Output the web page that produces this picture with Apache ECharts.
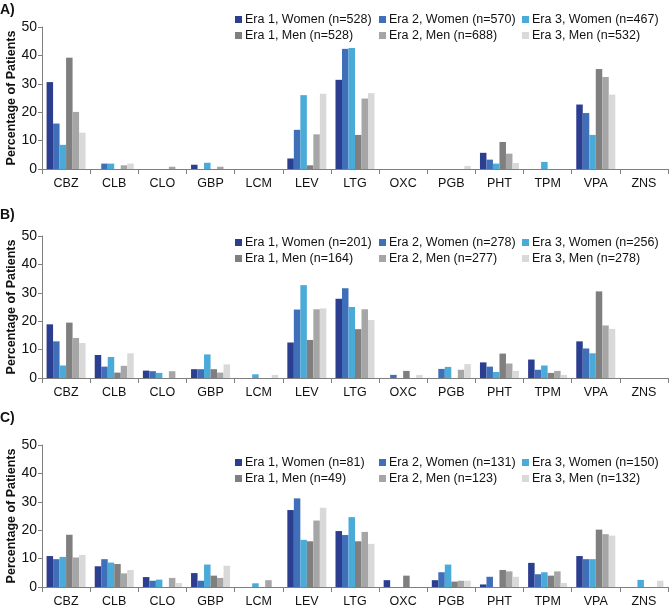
<!DOCTYPE html>
<html>
<head>
<meta charset="utf-8">
<script src="https://cdn.jsdelivr.net/npm/echarts@6/dist/echarts.min.js"></script>
<style>html,body{margin:0;padding:0;background:#fff}#c{width:669px;height:605px}</style>
</head>
<body>
<div id="c"></div>
<script>
var categories = ['CBZ','CLB','CLO','GBP','LCM','LEV','LTG','OXC','PGB','PHT','TPM','VPA','ZNS'];
var yTicks = [0, 10, 20, 30, 40, 50];
var panelLabels = ['A)', 'B)', 'C)'];

// Panel A
var namesA = ['Era 1, Women (n=528)','Era 2, Women (n=570)','Era 3, Women (n=467)','Era 1, Men (n=528)','Era 2, Men (n=688)','Era 3, Men (n=532)'];
var a_e1w = [30.6, 0, 0, 1.5, 0, 3.7, 31.4, 0, 0, 5.7, 0, 22.7, 0];
var a_e2w = [16.0, 1.9, 0, 0, 0, 13.8, 42.3, 0, 0, 3.3, 0, 19.7, 0];
var a_e3w = [8.5, 1.9, 0, 2.2, 0, 26.0, 42.6, 0, 0, 1.9, 2.5, 12.0, 0];
var a_e1m = [39.2, 0, 0, 0, 0, 1.3, 12.0, 0, 0, 9.5, 0, 35.2, 0];
var a_e2m = [20.1, 1.3, 0.8, 0.8, 0, 12.2, 24.8, 0, 0, 5.4, 0, 32.4, 0];
var a_e3m = [12.8, 1.9, 0, 0, 0, 26.5, 26.7, 0, 1.1, 2.1, 0, 26.2, 0];

// Panel B
var namesB = ['Era 1, Women (n=201)','Era 2, Women (n=278)','Era 3, Women (n=256)','Era 1, Men (n=164)','Era 2, Men (n=277)','Era 3, Men (n=278)'];
var b_e1w = [18.9, 8.1, 2.6, 3.1, 0, 12.5, 27.9, 0, 0, 5.5, 6.5, 12.9, 0];
var b_e2w = [12.9, 4.0, 2.4, 3.1, 0, 24.1, 31.6, 1.1, 3.2, 4.0, 2.9, 10.4, 0];
var b_e3w = [4.4, 7.4, 1.8, 8.3, 1.3, 32.7, 25.0, 0, 3.9, 2.1, 4.4, 8.7, 0];
var b_e1m = [19.5, 1.9, 0, 3.1, 0, 13.4, 17.2, 2.5, 0, 8.6, 1.8, 30.5, 0];
var b_e2m = [14.1, 4.3, 2.4, 1.9, 0, 24.2, 24.2, 0, 2.9, 5.1, 2.5, 18.5, 0];
var b_e3m = [12.3, 8.7, 0, 4.8, 1.1, 24.5, 20.4, 1.1, 4.9, 2.5, 1.1, 17.3, 0];

// Panel C
var namesC = ['Era 1, Women (n=81)','Era 2, Women (n=131)','Era 3, Women (n=150)','Era 1, Men (n=49)','Era 2, Men (n=123)','Era 3, Men (n=132)'];
var c_e1w = [10.9, 7.3, 3.5, 4.9, 0, 27.1, 19.7, 2.4, 2.4, 0.9, 8.5, 10.9, 0];
var c_e2w = [9.8, 9.8, 2.2, 2.2, 0, 31.2, 18.3, 0, 5.2, 3.6, 4.5, 9.8, 0];
var c_e3w = [10.6, 8.6, 2.6, 7.9, 1.3, 16.6, 24.6, 0, 7.9, 0, 5.2, 9.8, 2.5];
var c_e1m = [18.4, 8.1, 0, 4.0, 0, 16.1, 16.1, 4.0, 1.9, 6.0, 4.0, 20.2, 0];
var c_e2m = [10.4, 4.8, 3.2, 3.2, 2.4, 23.4, 19.4, 0, 2.2, 5.5, 5.5, 18.6, 0];
var c_e3m = [11.3, 6.0, 1.4, 7.5, 0, 27.9, 15.2, 0, 2.2, 3.6, 1.4, 18.1, 2.2];

var colors = ['#2c3e8f', '#3f6fb8', '#4aaad8', '#7f7f7f', '#a6a6a6', '#d9d9d9'];
var FONT = '"Liberation Sans", Arial, sans-serif';

var panels = [
  {names: namesA, data: [a_e1w, a_e2w, a_e3w, a_e1m, a_e2m, a_e3m], top: 27, legendTop: 13, labelTop: 3},
  {names: namesB, data: [b_e1w, b_e2w, b_e3w, b_e1m, b_e2m, b_e3m], top: 236, legendTop: 236, labelTop: 208},
  {names: namesC, data: [c_e1w, c_e2w, c_e3w, c_e1m, c_e2m, c_e3m], top: 445, legendTop: 456, labelTop: 411}
];

var grids = [], xAxes = [], yAxes = [], series = [], legends = [], titles = [];
var legendLefts = [235, 379, 522];
panels.forEach(function (p, pi) {
  grids.push({left: 42, width: 626, top: p.top, height: 142, containLabel: false, outerBoundsMode: 'none'});
  xAxes.push({
    type: 'category', gridIndex: pi, data: categories,
    axisLine: {lineStyle: {color: '#7f7f7f', width: 1}},
    axisTick: {show: true, length: 5, lineStyle: {color: '#7f7f7f'}},
    axisLabel: {color: '#111', fontSize: 12.5, margin: 8, fontFamily: FONT, interval: 0}
  });
  yAxes.push({
    type: 'value', gridIndex: pi, min: yTicks[0], max: yTicks[yTicks.length - 1], interval: 10,
    name: 'Percentage of Patients', nameLocation: 'middle', nameGap: 24, nameMoveOverlap: false,
    nameTextStyle: {fontSize: 12.5, fontWeight: 'bold', color: '#111', fontFamily: FONT},
    axisLine: {show: true, lineStyle: {color: '#7f7f7f', width: 1}},
    axisTick: {show: true, length: 4, lineStyle: {color: '#7f7f7f'}},
    axisLabel: {color: '#111', fontSize: 14, margin: 5, fontFamily: FONT},
    splitLine: {show: false}
  });
  p.names.forEach(function (n, si) {
    series.push({
      type: 'bar', name: n, xAxisIndex: pi, yAxisIndex: pi, data: p.data[si],
      itemStyle: {color: colors[si]}, barGap: '0%', barCategoryGap: '19%',
      animation: false
    });
  });
  for (var col = 0; col < 3; col++) {
    legends.push({
      orient: 'vertical', left: legendLefts[col], top: p.legendTop,
      data: [p.names[col], p.names[col + 3]],
      icon: 'rect', itemWidth: 7, itemHeight: 7, itemGap: 3, padding: 0,
      textStyle: {fontSize: 12.5, color: '#111', fontFamily: FONT, padding: [0, 0, 0, -2]},
      selectedMode: false
    });
  }
  titles.push({text: panelLabels[pi], left: 0, top: p.labelTop, padding: 0,
    textStyle: {fontSize: 14, fontWeight: 'bold', color: '#111', fontFamily: FONT}});
});

var chart = echarts.init(document.getElementById('c'), null, {renderer: 'canvas'});
chart.setOption({
  animation: false,
  backgroundColor: '#fff',
  color: colors,
  title: titles,
  grid: grids,
  xAxis: xAxes,
  yAxis: yAxes,
  legend: legends,
  series: series
});
</script>
</body>
</html>
